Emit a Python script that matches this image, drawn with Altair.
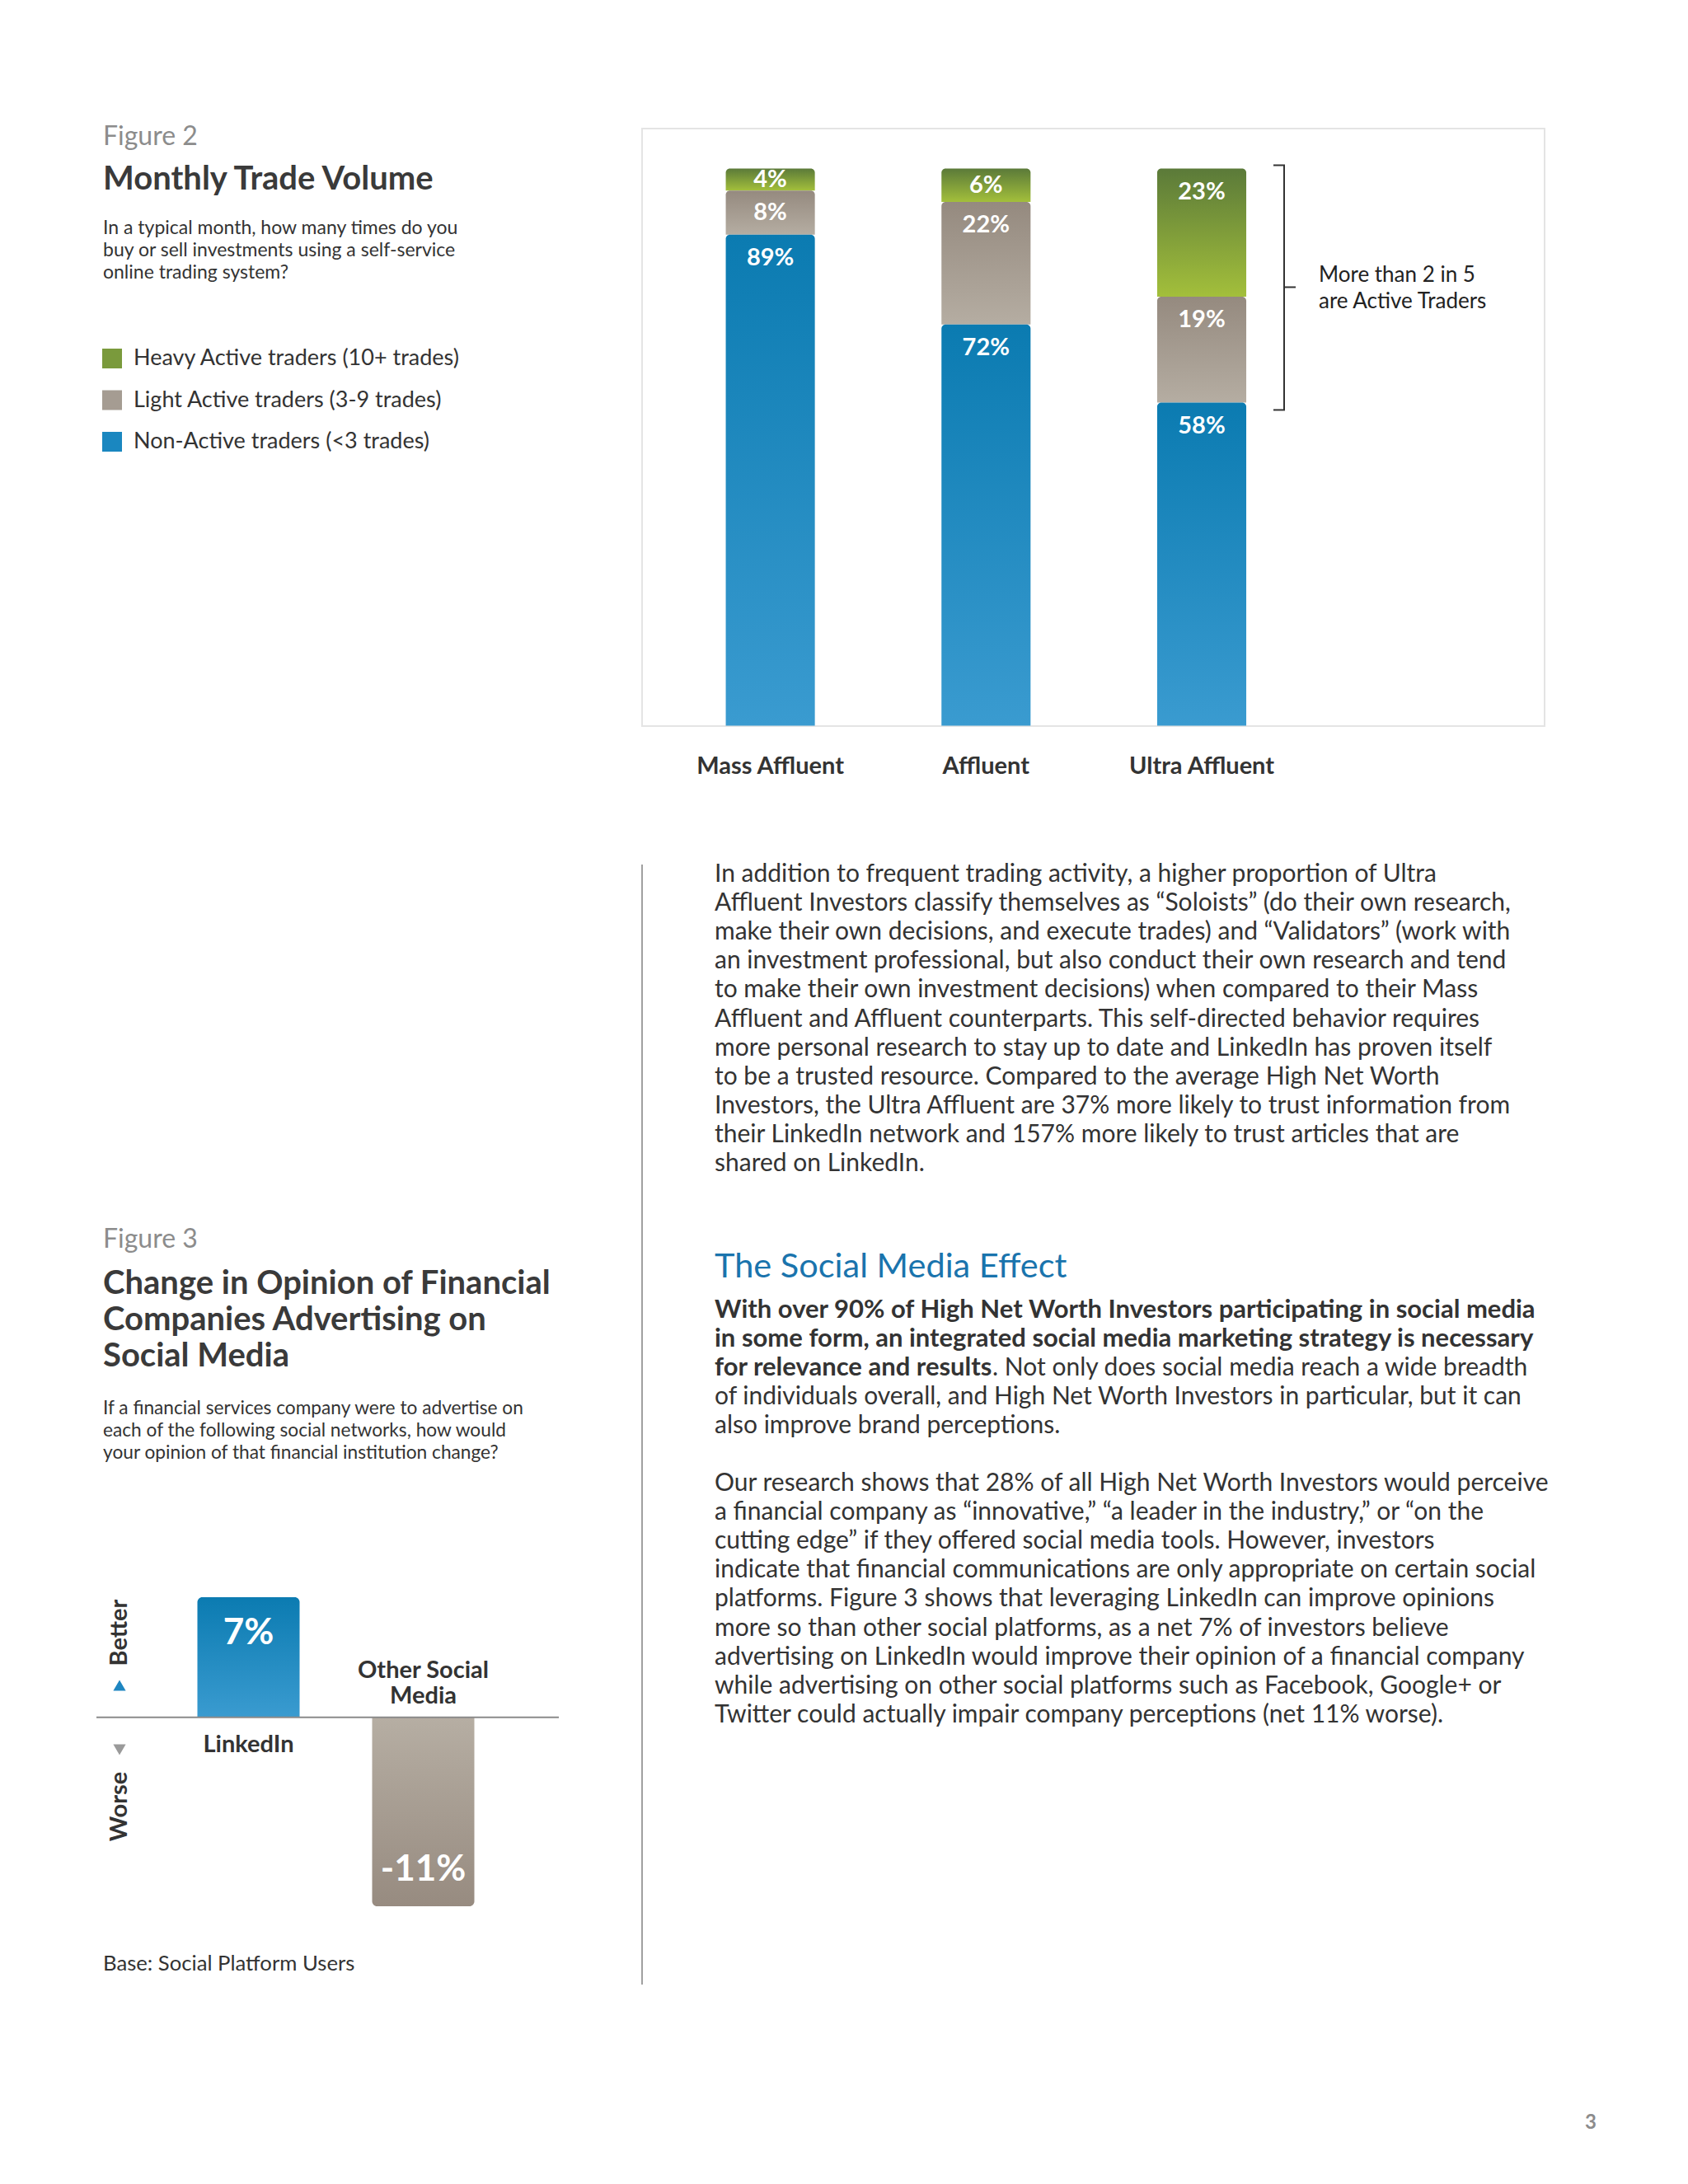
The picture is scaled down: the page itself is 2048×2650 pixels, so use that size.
import altair as alt
import pandas as pd

FONT = "Lato"
DARK = "#333333"
GREYTXT = "#8c8c8c"

# ---------------- Figure 2 data ----------------
groups = ["Mass Affluent", "Affluent", "Ultra Affluent"]
tiers = ["Heavy Active traders (10+ trades)",
         "Light Active traders (3-9 trades)",
         "Non-Active traders (<3 trades)"]
heavy = [4, 6, 23]
light = [8, 22, 19]
non_active = [89, 72, 58]
stack_order = [2, 1, 0]  # bottom = Non-Active

# ---------------- Figure 3 data ----------------
platforms = ["LinkedIn", "Other Social Media"]
platform_labels = ["LinkedIn", "Other Social\nMedia"]
net_change = [7, -11]

# ---------------- Text ----------------
fig2_sub = ["In a typical month, how many times do you",
            "buy or sell investments using a self-service",
            "online trading system?"]
annot = ["More than 2 in 5", "are Active Traders"]
fig3_title = ["Change in Opinion of Financial",
              "Companies Advertising on",
              "Social Media"]
fig3_sub = ["If a financial services company were to advertise on",
            "each of the following social networks, how would",
            "your opinion of that financial institution change?"]
para1 = ["In addition to frequent trading activity, a higher proportion of Ultra",
         "Affluent Investors classify themselves as \u201cSoloists\u201d (do their own research,",
         "make their own decisions, and execute trades) and \u201cValidators\u201d (work with",
         "an investment professional, but also conduct their own research and tend",
         "to make their own investment decisions) when compared to their Mass",
         "Affluent and Affluent counterparts. This self-directed behavior requires",
         "more personal research to stay up to date and LinkedIn has proven itself",
         "to be a trusted resource. Compared to the average High Net Worth",
         "Investors, the Ultra Affluent are 37% more likely to trust information from",
         "their LinkedIn network and 157% more likely to trust articles that are",
         "shared on LinkedIn."]
para2_bold = ["With over 90% of High Net Worth Investors participating in social media",
              "in some form, an integrated social media marketing strategy is necessary",
              "for relevance and results"]
para2_rest_first = ". Not only does social media reach a wide breadth"
para2_rest = ["of individuals overall, and High Net Worth Investors in particular, but it can",
              "also improve brand perceptions."]
para3 = ["Our research shows that 28% of all High Net Worth Investors would perceive",
         "a financial company as \u201cinnovative,\u201d \u201ca leader in the industry,\u201d or \u201con the",
         "cutting edge\u201d if they offered social media tools. However, investors",
         "indicate that financial communications are only appropriate on certain social",
         "platforms. Figure 3 shows that leveraging LinkedIn can improve opinions",
         "more so than other social platforms, as a net 7% of investors believe",
         "advertising on LinkedIn would improve their opinion of a financial company",
         "while advertising on other social platforms such as Facebook, Google+ or",
         "Twitter could actually impair company perceptions (net 11% worse)."]


def grad(top, bottom):
    return alt.Gradient(gradient="linear",
                        stops=[alt.GradientStop(color=top, offset=0),
                               alt.GradientStop(color=bottom, offset=1)],
                        x1=0, x2=0, y1=0, y2=1)


G_GREEN = grad("#5b7a39", "#a3bf3b")
G_GRAY = grad("#958a7f", "#b5ada2")
G_BLUE = grad("#0b7bb1", "#3a9bd0")
G_GRAY_NEG = grad("#b6aea3", "#978b80")

one = pd.DataFrame({"k": [0]})


def text_block(lines, x, y0, size, lh=1, color=DARK, weight="normal",
               align="left", angle=None):
    d = pd.DataFrame({"i": list(range(len(lines))), "t": lines})
    kw = dict(font=FONT, fontSize=size, color=color, fontWeight=weight,
              align=align, baseline="middle")
    if angle is not None:
        kw["angle"] = angle
    return alt.Chart(d).mark_text(**kw).encode(
        x=alt.value(x),
        y=alt.Y("i:Q", scale=alt.Scale(domain=[0, 1], range=[y0, y0 + lh],
                                        nice=False, zero=False), axis=None),
        text="t:N")


layers = []

# ---------------- Figure 2 ----------------
rows = []
for gi, g in enumerate(groups):
    for t, vals, o in zip(tiers, [heavy, light, non_active], stack_order):
        rows.append({"group": g, "tier": t, "value": vals[gi], "order": o})
df2 = pd.DataFrame(rows)

X2 = alt.X("group:N", sort=groups,
           scale=alt.Scale(domain=groups, range=[795.75, 1580.85],
                           paddingInner=0.587, paddingOuter=0.2935),
           axis=None)
Y2S = alt.Scale(domain=[0, 100], range=[872.5, 196.5], nice=False, zero=False)

base2 = (alt.Chart(df2)
         .transform_joinaggregate(total="sum(value)", groupby=["group"])
         .transform_calculate(pct="datum.value / datum.total * 100")
         .transform_stack(stack="pct", groupby=["group"], as_=["y0", "y1"],
                          sort=[alt.SortField("order", order="ascending")])
         .transform_calculate(ly="datum.y1 - min(4.2, (datum.y1 - datum.y0) / 2)",
                              lbl="datum.value + '%'"))

# frame
layers.append(alt.Chart(one).mark_rect(fill="transparent", stroke="#e4e4e4", strokeWidth=2)
              .encode(x=alt.value(771), x2=alt.value(1866), y=alt.value(148), y2=alt.value(873)))

for t, g in zip(tiers, [G_GREEN, G_GRAY, G_BLUE]):
    layers.append(base2.transform_filter(alt.datum.tier == t)
                  .mark_bar(color=g, cornerRadiusTopLeft=5, cornerRadiusTopRight=5)
                  .encode(x=X2, y=alt.Y("y1:Q", scale=Y2S, axis=None), y2="y0:Q"))

layers.append(base2.mark_text(font=FONT, fontSize=29, fontWeight="bold", color="white",
                              baseline="middle")
              .encode(x=X2, y=alt.Y("ly:Q", scale=Y2S, axis=None), text="lbl:N"))

# category labels
layers.append(alt.Chart(pd.DataFrame({"group": groups}))
              .transform_calculate(z="0")
              .mark_text(font=FONT, fontSize=29, fontWeight="bold", color=DARK,
                         baseline="middle", dy=49)
              .encode(x=X2, y=alt.Y("z:Q", scale=Y2S, axis=None), text="group:N"))

# bracket around active traders of Ultra Affluent
br = (base2.transform_filter((alt.datum.group == "Ultra Affluent") &
                             (alt.datum.order > 0))
      .transform_aggregate(ymin="min(y0)", ymax="max(y1)")
      .transform_calculate(ymid="(datum.ymin + datum.ymax) / 2"))
layers.append(br.mark_rule(color=DARK, strokeWidth=2, yOffset=-4, y2Offset=9)
              .encode(x=alt.value(1550), y=alt.Y("ymax:Q", scale=Y2S, axis=None), y2="ymin:Q"))
layers.append(br.mark_rule(color=DARK, strokeWidth=2, yOffset=-4)
              .encode(x=alt.value(1537), x2=alt.value(1551), y=alt.Y("ymax:Q", scale=Y2S, axis=None)))
layers.append(br.mark_rule(color=DARK, strokeWidth=2, yOffset=9)
              .encode(x=alt.value(1537), x2=alt.value(1551), y=alt.Y("ymin:Q", scale=Y2S, axis=None)))
layers.append(br.mark_rule(color=DARK, strokeWidth=2, yOffset=2)
              .encode(x=alt.value(1550), x2=alt.value(1564), y=alt.Y("ymid:Q", scale=Y2S, axis=None)))
layers.append(text_block(annot, 1592, 326, 26, lh=32, color="#222222"))

# left panel figure 2
layers.append(text_block(["Figure 2"], 117, 158, 32, color=GREYTXT))
layers.append(text_block(["Monthly Trade Volume"], 117, 210, 40, weight="bold", color="#3a3a3a"))
layers.append(text_block(fig2_sub, 117, 269, 23, lh=27))

leg = pd.DataFrame({"tier": tiers})
LY = alt.Y("tier:N", sort=tiers,
           scale=alt.Scale(type="point", domain=tiers, range=[427, 528], padding=0),
           axis=None)
layers.append(alt.Chart(leg).mark_square(size=576, opacity=1, filled=True)
              .encode(x=alt.value(128), y=LY,
                      color=alt.Color("tier:N", scale=alt.Scale(domain=tiers,
                                      range=["#7a9a3c", "#a59c92", "#1a87c0"]), legend=None)))
layers.append(alt.Chart(leg).mark_text(font=FONT, fontSize=27, color=DARK, align="left",
                                       baseline="middle")
              .encode(x=alt.value(154), y=LY, text="tier:N"))

# ---------------- text column ----------------
layers.append(alt.Chart(one).mark_rule(color="#a0a0a0", strokeWidth=2)
              .encode(x=alt.value(771), y=alt.value(1041), y2=alt.value(2400)))
LH = 35.1
PS = 30
BS = 31
layers.append(text_block(para1, 859, 1053, PS, lh=LH))
layers.append(text_block(["The Social Media Effect"], 859, 1530, 41.5, color="#1a74ad"))
layers.append(text_block(para2_bold, 859, 1582, BS, lh=LH, weight="bold"))
layers.append(text_block([para2_rest_first], 1196, 1582 + 2 * LH, PS))
layers.append(text_block(para2_rest, 859, 1582 + 3 * LH, PS, lh=LH))
layers.append(text_block(para3, 859, 1792, PS, lh=LH))

# ---------------- Figure 3 ----------------
layers.append(text_block(["Figure 3"], 117, 1496, 32, color=GREYTXT))
layers.append(text_block(fig3_title, 117, 1550, 40, lh=44, weight="bold", color="#3a3a3a"))
layers.append(text_block(fig3_sub, 117, 1701, 22.7, lh=27))

df3 = pd.DataFrame({"platform": platforms, "change": net_change, "name": platform_labels})
X3 = alt.X("platform:N", sort=platforms,
           scale=alt.Scale(domain=platforms, range=[187.5, 611.5],
                           paddingInner=0.415, paddingOuter=0.2075),
           axis=None)
Y3S = alt.Scale(domain=[-11, 7], range=[2305, 1930], nice=False, zero=False)
base3 = (alt.Chart(df3)
         .transform_calculate(z="0", lbl="datum.change + '%'"))

layers.append(base3.transform_filter(alt.datum.change > 0)
              .mark_bar(color=G_BLUE, cornerRadiusTopLeft=6, cornerRadiusTopRight=6)
              .encode(x=X3, y=alt.Y("change:Q", scale=Y3S, axis=None), y2="z:Q"))
layers.append(base3.transform_filter(alt.datum.change < 0)
              .mark_bar(color=G_GRAY_NEG, cornerRadiusBottomLeft=6, cornerRadiusBottomRight=6)
              .encode(x=X3, y=alt.Y("change:Q", scale=Y3S, axis=None), y2="z:Q"))
layers.append(alt.Chart(one).transform_calculate(z="0")
              .mark_rule(color="#8a8a8a", strokeWidth=2)
              .encode(x=alt.value(109), x2=alt.value(670), y=alt.Y("z:Q", scale=Y3S, axis=None)))
layers.append(base3.transform_filter(alt.datum.change > 0)
              .mark_text(font=FONT, fontSize=44, fontWeight="bold", color="white",
                         baseline="middle", dy=44)
              .encode(x=X3, y=alt.Y("change:Q", scale=Y3S, axis=None), text="lbl:N"))
layers.append(base3.transform_filter(alt.datum.change < 0)
              .mark_text(font=FONT, fontSize=44, fontWeight="bold", color="white",
                         baseline="middle", dy=-44)
              .encode(x=X3, y=alt.Y("change:Q", scale=Y3S, axis=None), text="lbl:N"))
layers.append(base3.transform_filter(alt.datum.change > 0)
              .mark_text(font=FONT, fontSize=29, fontWeight="bold", color=DARK,
                         baseline="middle", dy=33)
              .encode(x=X3, y=alt.Y("z:Q", scale=Y3S, axis=None), text="name:N"))
layers.append(base3.transform_filter(alt.datum.change < 0)
              .mark_text(font=FONT, fontSize=29, fontWeight="bold", color=DARK,
                         baseline="middle", lineBreak="\n", lineHeight=31, dy=-57)
              .encode(x=X3, y=alt.Y("z:Q", scale=Y3S, axis=None), text="name:N"))

layers.append(text_block(["Better"], 137, 1973, 29, weight="bold", align="center", angle=270))
layers.append(text_block(["Worse"], 137, 2184, 29, weight="bold", align="center", angle=270))
layers.append(alt.Chart(one).mark_point(shape="triangle-up", filled=True, size=230,
                                        color="#1e86c1", opacity=1)
              .encode(x=alt.value(137), y=alt.value(2037)))
layers.append(alt.Chart(one).mark_point(shape="triangle-down", filled=True, size=230,
                                        color="#9a9a9a", opacity=1)
              .encode(x=alt.value(137), y=alt.value(2115)))
layers.append(text_block(["Base: Social Platform Users"], 117, 2375, 25.7))
layers.append(text_block(["3"], 1922, 2568, 24, color="#8c8c8c", weight="bold", align="center"))

chart = (alt.layer(*layers)
         .resolve_scale(x="independent", y="independent", color="independent")
         .properties(width=2032, height=2620, padding=0,
                     autosize=alt.AutoSizeParams(type="none"),
                     background="white")
         .configure_view(strokeWidth=0))

chart.save("out.html", embed_options={"renderer": "svg", "actions": False})
